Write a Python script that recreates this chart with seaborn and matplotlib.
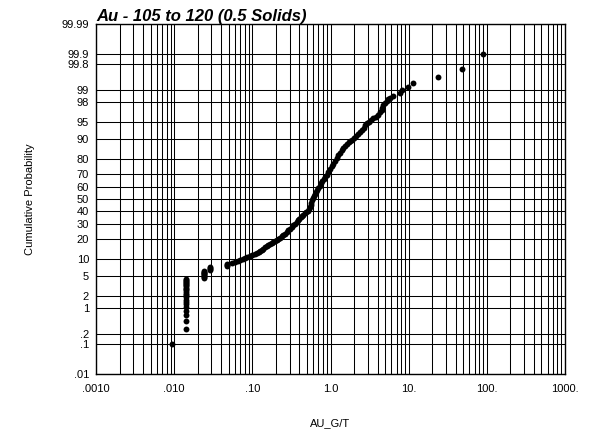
#!/usr/bin/env python3

from statistics import NormalDist

import numpy as np
import pandas as pd
import matplotlib
matplotlib.use("Agg")
import matplotlib.pyplot as plt
from matplotlib.ticker import FixedLocator, LogLocator, NullFormatter
import seaborn as sns

# Au grades (g/t), with their cumulative probability (%)
au_gt = [
    0.0095,
    # column at the detection limit
    0.014, 0.014, 0.014, 0.014, 0.014, 0.014, 0.014, 0.014, 0.014, 0.014, 0.014, 0.014,
    0.014, 0.014, 0.014, 0.014, 0.014, 0.014, 0.014, 0.014, 0.014, 0.014, 0.014,
    0.024, 0.024, 0.024, 0.024, 0.024, 0.024, 0.024, 0.024, 0.024,
    0.029, 0.029, 0.029, 0.029,
    0.048, 0.048, 0.048,
    # main curve
    0.055, 0.06, 0.065, 0.07, 0.075, 0.08, 0.086, 0.093, 0.10, 0.107,
    0.114, 0.12, 0.125, 0.132, 0.138, 0.145, 0.152, 0.16, 0.168, 0.176,
    0.185, 0.195, 0.205, 0.215, 0.226, 0.237, 0.249, 0.26, 0.275, 0.29,
    0.305, 0.32, 0.334, 0.35, 0.368, 0.385, 0.40, 0.415, 0.43, 0.45,
    0.47, 0.49, 0.51, 0.525, 0.54, 0.555, 0.57, 0.585, 0.60, 0.615,
    0.63, 0.65, 0.67, 0.70, 0.73, 0.76, 0.79, 0.82, 0.85, 0.89,
    0.93, 0.98, 1.03, 1.08, 1.14, 1.20, 1.26, 1.32, 1.39, 1.46,
    1.53, 1.61, 1.70, 1.80, 1.90, 2.00, 2.12, 2.25, 2.38, 2.52,
    2.66, 2.80, 2.95, 3.10, 3.30, 3.52, 3.80, 4.08, 4.30, 4.51,
    4.62, 4.73, 5.0, 5.22, 5.50, 5.77, 6.36, 7.74, 8.13, 9.89,
    11.5, 23.9, 48.5, 90.1,
]
cum_prob = [
    0.10,
    0.29, 0.48, 0.67, 0.87, 1.06, 1.25, 1.44, 1.63, 1.83, 2.02, 2.21, 2.40,
    2.60, 2.79, 2.98, 3.17, 3.37, 3.56, 3.75, 3.94, 4.13, 4.33, 4.52,
    4.71, 4.90, 5.10, 5.29, 5.48, 5.67, 5.87, 6.06, 6.25,
    6.5, 6.8, 7.1, 7.4,
    7.8, 8.1, 8.4,
    8.7, 9.0, 9.4, 9.8, 10.2, 10.6, 11.0, 11.4, 11.8, 12.2,
    12.6, 13.1, 13.6, 14.1, 14.6, 15.2, 15.8, 16.4, 17.0, 17.5,
    18.0, 18.6, 19.2, 19.9, 20.6, 21.4, 22.2, 23.0, 24.0, 25.2,
    26.4, 27.6, 28.8, 30.0, 31.3, 32.6, 33.8, 35.0, 36.0, 37.0,
    37.9, 38.8, 40.0, 41.8, 43.5, 45.3, 47.0, 48.8, 50.6, 52.5,
    54.3, 56.0, 57.6, 59.3, 61.0, 63.0, 64.8, 66.4, 68.0, 69.8,
    71.6, 73.6, 75.6, 77.3, 79.3, 80.9, 82.3, 83.5, 85.0, 86.3,
    87.2, 88.0, 88.6, 89.1, 89.6, 90.1, 90.8, 91.5, 92.2, 92.9,
    93.5, 94.1, 94.6, 95.0, 95.4, 95.7, 96.0, 96.3, 96.7, 97.1,
    97.4, 97.7, 97.9, 98.1, 98.3, 98.4, 98.57, 98.76, 98.95, 99.13,
    99.33, 99.51, 99.71, 99.90,
]

# axis ticks
x_ticks = [0.001, 0.01, 0.1, 1, 10, 100, 1000]
x_labels = [".0010", ".010", ".10", "1.0", "10.", "100.", "1000."]
y_ticks = [0.01, 0.1, 0.2, 1, 2, 5, 10, 20, 30, 40, 50, 60, 70, 80, 90, 95, 98, 99, 99.8, 99.9, 99.99]
y_labels = [".01", ".1", ".2", "1", "2", "5", "10", "20", "30", "40", "50", "60", "70",
            "80", "90", "95", "98", "99", "99.8", "99.9", "99.99"]

nd = NormalDist()


def _probit(v):
    if not np.isfinite(v):
        return np.nan
    v = min(max(v, 1e-6), 100 - 1e-6)
    return nd.inv_cdf(v / 100.0)


def _unprobit(v):
    if not np.isfinite(v):
        return np.nan
    return nd.cdf(v) * 100.0


probit = np.vectorize(_probit, otypes=[float])
unprobit = np.vectorize(_unprobit, otypes=[float])

sns.set_style("white")
plt.rcParams['font.family'] = ['Liberation Sans', 'DejaVu Sans']
plt.rcParams['text.color'] = 'black'
plt.rcParams['axes.labelcolor'] = 'black'

df = pd.DataFrame({"AU_G/T": au_gt, "prob": cum_prob})

fig = plt.figure(figsize=(5.9, 4.32), dpi=100)
ax = fig.add_axes([96 / 590, 58 / 432, 469 / 590, 350 / 432])

sns.scatterplot(data=df, x="AU_G/T", y="prob", ax=ax, color="black", s=18,
                linewidth=0, zorder=3, legend=False)

ax.set_xscale("log")
ax.set_yscale("function", functions=(probit, unprobit))
ax.set_xlim(0.001, 1000)
ax.set_ylim(0.01, 99.99)

ax.xaxis.set_major_locator(FixedLocator(x_ticks))
ax.set_xticklabels(x_labels)
ax.xaxis.set_minor_locator(LogLocator(base=10, subs=np.arange(2, 10)))
ax.xaxis.set_minor_formatter(NullFormatter())
ax.yaxis.set_major_locator(FixedLocator(y_ticks))
ax.set_yticklabels(y_labels)
ax.yaxis.set_minor_locator(FixedLocator([]))

ax.grid(True, which="both", axis="x", color="black", linewidth=0.75)
ax.grid(True, which="major", axis="y", color="black", linewidth=0.75)
ax.tick_params(axis="both", which="both", length=0, labelsize=8, colors="black")
ax.tick_params(axis="x", pad=7)
ax.tick_params(axis="y", pad=5)
for s in ax.spines.values():
    s.set_color("black")
    s.set_linewidth(1.0)

ax.set_xlabel("AU_G/T", fontsize=8, color="black")
ax.set_ylabel("Cumulative Probability", fontsize=8, color="black")
ax.xaxis.set_label_coords(0.5, -0.125)
ax.yaxis.set_label_coords(-0.13, 0.5)
ax.set_title("Au - 105 to 120 (0.5 Solids)", loc="left", fontsize=12,
             fontweight="bold", fontstyle="italic", pad=2, color="black")

fig.savefig("out.png", dpi=100)
